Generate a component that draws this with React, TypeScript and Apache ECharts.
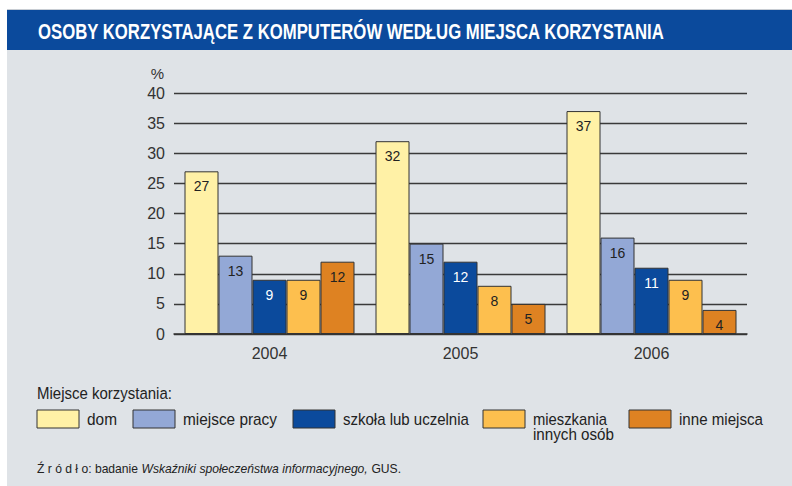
import React, { useEffect, useRef } from "react";
import * as echarts from "echarts";

const FONT = '"Liberation Sans", Arial, Helvetica, sans-serif';

const years = ["2004", "2005", "2006"];
const seriesNames = ["dom", "miejsce pracy", "szkoła lub uczelnia", "mieszkania innych osób", "inne miejsca"];
const legendLines = [["dom"], ["miejsce pracy"], ["szkoła lub uczelnia"], ["mieszkania", "innych osób"], ["inne miejsca"]];
const dom = [27, 32, 37];
const miejscePracy = [13, 15, 16];
const szkola = [9, 12, 11];
const mieszkania = [9, 8, 9];
const inne = [12, 5, 4];
const seriesValues = [dom, miejscePracy, szkola, mieszkania, inne];
const colors = ["#fff1a6", "#93a8d6", "#0b4a9c", "#fdbf4e", "#de8222"];
const labelColors = ["#222", "#222", "#fff", "#222", "#222"];
const yTicks = { min: 0, max: 40, interval: 5 };

const legendX = [37, 133, 293, 483, 629];
const legendTextWidths = [[30], [94], [126], [74, 81], [84]];

const measureCtx = (() => {
  const c = document.createElement("canvas");
  return c.getContext("2d")!;
})();
function measure(text: string, font: string) {
  measureCtx.font = font;
  return measureCtx.measureText(text).width;
}

export default function App() {
  const ref = useRef<HTMLDivElement>(null);
  useEffect(() => {
    document.body.style.margin = "0";
    const chart = echarts.init(ref.current!, null, { renderer: "svg" });

    const titleText = "OSOBY KORZYSTAJĄCE Z KOMPUTERÓW WEDŁUG MIEJSCA KORZYSTANIA";
    const titleFont = `bold 22px ${FONT}`;
    const titleScale = 627 / measure(titleText, titleFont);

    const legFont = `17px ${FONT}`;
    const legTitle = "Miejsce korzystania:";
    const legTitleScale = 135 / measure(legTitle, legFont);

    const legendGraphics: any[] = [];
    legendLines.forEach((lines, i) => {
      legendGraphics.push({
        type: "rect",
        shape: { x: legendX[i], y: 410, width: 42, height: 18 },
        style: { fill: colors[i], stroke: "#333", lineWidth: 1 },
        z: 10,
      });
      lines.forEach((ln, j) => {
        legendGraphics.push({
          type: "text",
          x: legendX[i] + 50,
          y: 419 + j * 15,
          scaleX: legendTextWidths[i][j] / measure(ln, legFont),
          style: {
            text: ln,
            fill: "#222",
            font: legFont,
            textVerticalAlign: "middle",
          },
          z: 10,
        });
      });
    });

    const fnA1 = "Ź r ó d ł o: badanie ";
    const fnI = "Wskaźniki społeczeństwa informacyjnego,";
    const fnA2 = " GUS.";
    const fnW =
      measure(fnA1, `12px ${FONT}`) + measure(fnI, `italic 12px ${FONT}`) + measure(fnA2, `12px ${FONT}`);
    const fnScale = 364 / fnW;

    chart.setOption({
      animation: false,
      backgroundColor: "#ffffff",
      graphic: [
        { type: "rect", shape: { x: 7, y: 9, width: 785, height: 1 }, style: { fill: "#c8cdd3" }, z: 0 },
        { type: "rect", shape: { x: 7, y: 10, width: 785, height: 40 }, style: { fill: "#0b4a9c" }, z: 0 },
        { type: "rect", shape: { x: 7, y: 50, width: 785, height: 436 }, style: { fill: "#dfe3e7" }, z: -1 },
        {
          type: "text",
          x: 38,
          y: 31,
          scaleX: titleScale,
          style: {
            text: titleText,
            fill: "#ffffff",
            font: titleFont,
            textVerticalAlign: "middle",
          },
          z: 10,
        },
        {
          type: "text",
          x: 37,
          y: 393,
          scaleX: legTitleScale,
          style: {
            text: legTitle,
            fill: "#222",
            font: legFont,
            textVerticalAlign: "middle",
          },
          z: 10,
        },
        ...legendGraphics,
        {
          type: "text",
          x: 37,
          y: 469,
          scaleX: fnScale,
          style: {
            text: `{a|${fnA1}}{i|${fnI}}{a|${fnA2}}`,
            textVerticalAlign: "middle",
            rich: {
              a: { fontFamily: FONT, fontSize: 12, fill: "#222" },
              i: { fontFamily: FONT, fontSize: 12, fontStyle: "italic", fill: "#222" },
            },
          },
          z: 10,
        },
      ],
      grid: { left: 174, right: 45, top: 93, bottom: 152 },
      xAxis: {
        type: "category",
        data: years,
        axisLine: { show: true, lineStyle: { color: "#333", width: 1.5 } },
        axisTick: { show: false },
        axisLabel: { color: "#333", fontSize: 16, fontFamily: FONT, margin: 11 },
      },
      yAxis: {
        type: "value",
        min: yTicks.min,
        max: yTicks.max,
        interval: yTicks.interval,
        name: "%",
        nameLocation: "end",
        nameGap: 12,
        nameTextStyle: { color: "#333", fontSize: 15, fontFamily: FONT, align: "right", padding: [0, 10, 0, 0] },
        axisLine: { show: false },
        axisTick: { show: false },
        axisLabel: { color: "#333", fontSize: 16, fontFamily: FONT, margin: 9 },
        splitLine: { show: true, lineStyle: { color: "#3a3a3a", width: 1.3 } },
      },
      series: seriesValues.map((vals, i) => ({
        name: seriesNames[i],
        type: "bar",
        data: vals,
        barWidth: 34,
        barGap: "0%",
        itemStyle: { color: colors[i], borderColor: "#333", borderWidth: 1 },
        label: {
          show: true,
          position: "insideTop",
          distance: 8,
          color: labelColors[i],
          fontSize: 14,
          fontFamily: FONT,
        },
      })),
    });
    return () => chart.dispose();
  }, []);
  return <div ref={ref} style={{ width: 792, height: 486 }} />;
}
